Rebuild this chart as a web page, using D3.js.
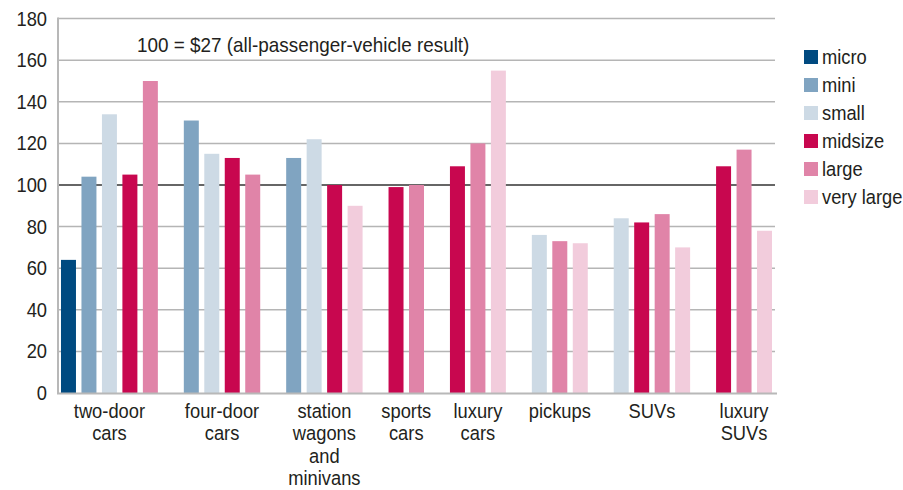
<!DOCTYPE html>
<html><head><meta charset="utf-8">
<script src="https://cdn.jsdelivr.net/npm/d3@7/dist/d3.min.js"></script>
<style>
html,body{margin:0;padding:0;background:#fff;}
svg text{font-family:"Liberation Sans",Arial,sans-serif;fill:#231f20;}
</style></head>
<body><svg id="c" width="903" height="490"></svg>
<script>
// ---- data ----
const categories = [
  ["two-door","cars"],
  ["four-door","cars"],
  ["station","wagons","and","minivans"],
  ["sports","cars"],
  ["luxury","cars"],
  ["pickups"],
  ["SUVs"],
  ["luxury","SUVs"]
];
const seriesNames = ["micro","mini","small","midsize","large","very large"];
const seriesColors = ["#004a80","#80a4c1","#cddae5","#c8074f","#e084a8","#f2ccdc"];
// null = no bar for that size class
const micro     = [64,  null, null, null, null, null, null, null];
const mini      = [104, 131,  113,  null, null, null, null, null];
const small     = [134, 115,  122,  null, null, 76,   84,   null];
const midsize   = [105, 113,  100,  99,   109,  null, 82,   109];
const large     = [150, 105,  null, 100,  120,  73,   86,   117];
const veryLarge = [null,null, 90,   null, 155,  72,   70,   78];
const seriesValues = [micro, mini, small, midsize, large, veryLarge];
const yTicks = [0,20,40,60,80,100,120,140,160,180];
const note = "100 = $27 (all-passenger-vehicle result)";

// ---- layout ----
const svg = d3.select("#c");
const L = 58, R = 775, T = 18.6, B = 393;
const FS = 19.5, SX = 0.94;

function txt(parent, xx, yy, anchor, sx) {
  return parent.append("text")
    .attr("transform", `translate(${xx},${yy}) scale(${sx || SX},1)`)
    .attr("text-anchor", anchor || "start").attr("font-size", FS);
}

// flat list of bars, with spacer slots between category groups
const slots = [];
const bars = [];
categories.forEach((c, ci) => {
  if (ci > 0) slots.push("gap" + ci);
  seriesValues.forEach((vals, si) => {
    const v = vals[ci];
    if (v != null) {
      const key = ci + "-" + si;
      slots.push(key);
      bars.push({key, ci, si, v});
    }
  });
});

const x = d3.scaleBand().domain(slots).range([L, R]).paddingInner(0.268).paddingOuter(0.146);
const y = d3.scaleLinear().domain([0, 180]).range([B, T]);

// gridlines
svg.append("g").selectAll("line").data(yTicks.filter(t => t > 0)).join("line")
  .attr("x1", L).attr("x2", R)
  .attr("y1", d => y(d)).attr("y2", d => y(d))
  .attr("stroke", d => d === 100 ? "#333" : "#b5b5b5")
  .attr("stroke-width", 1.5);

// y axis labels
const yl = svg.append("g");
yTicks.forEach(t => txt(yl, 47, y(t) + 7, "end").text(t));

// bars
svg.append("g").selectAll("rect").data(bars).join("rect")
  .attr("x", d => x(d.key)).attr("width", x.bandwidth())
  .attr("y", d => y(d.v)).attr("height", d => y(0) - y(d.v))
  .attr("fill", d => seriesColors[d.si]);

// axes lines
svg.append("line").attr("x1", L).attr("x2", L).attr("y1", T - 1).attr("y2", B + 1)
  .attr("stroke", "#b8b8b8").attr("stroke-width", 2);
svg.append("line").attr("x1", L - 1).attr("x2", R + 2).attr("y1", B + 0.5).attr("y2", B + 0.5)
  .attr("stroke", "#b8b8b8").attr("stroke-width", 2);

// category labels centered under bar clusters
const groupCenters = categories.map((c, ci) => {
  const gb = bars.filter(b => b.ci === ci);
  const x0 = d3.min(gb, b => x(b.key));
  const x1 = d3.max(gb, b => x(b.key) + x.bandwidth());
  return (x0 + x1) / 2;
});
const catG = svg.append("g");
categories.forEach((lines, ci) => {
  const t = txt(catG, groupCenters[ci], 418, "middle");
  lines.forEach((ln, li) => {
    t.append("tspan").attr("x", 0).attr("y", li * 22.4).text(ln);
  });
});

// note
txt(svg, 137, 52, "start", 0.97).text(note);

// legend
const lg = svg.append("g");
seriesNames.forEach((n, i) => {
  const cy = 57 + i * 28;
  lg.append("rect").attr("x", 804).attr("y", cy - 7).attr("width", 14).attr("height", 14)
    .attr("fill", seriesColors[i]);
  txt(lg, 822, cy + 7).text(n);
});
</script>
</body></html>
